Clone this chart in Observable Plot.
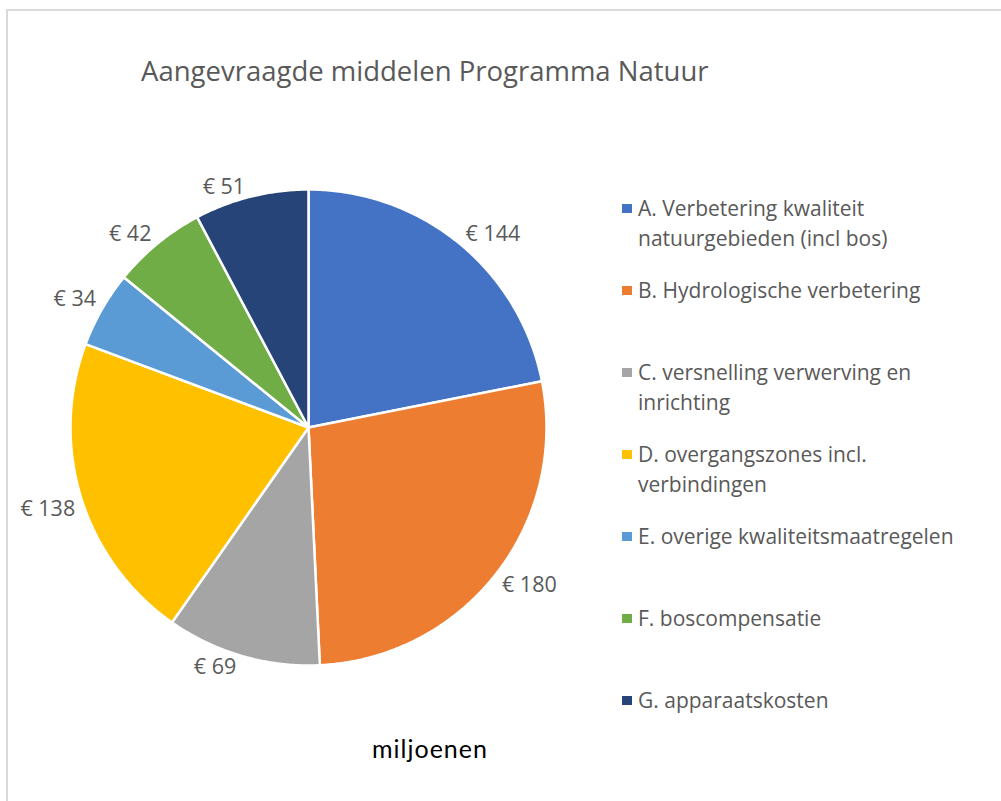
<!DOCTYPE html>
<html><head><meta charset="utf-8">
<script src="https://cdn.jsdelivr.net/npm/d3@7"></script>
<script src="https://cdn.jsdelivr.net/npm/@observablehq/plot@0.6"></script>
<style>
body{margin:0;background:#fff;width:1001px;height:801px;overflow:hidden;position:relative;font-family:"Open Sans",sans-serif;}
#frame{position:absolute;left:6px;top:9px;width:1010px;height:810px;border-top:2px solid #d9d9d9;border-left:2px solid #d9d9d9;}
#title{position:absolute;left:141px;top:52px;font-size:27.5px;line-height:38px;color:#595959;white-space:nowrap;}
#chart{position:absolute;left:0;top:120px;}
#legend{position:absolute;left:622px;top:193px;}
.item{height:82px;display:flex;align-items:flex-start;}
.sw{width:10px;height:9px;margin-top:11px;margin-right:6px;flex:none;}
.lab{white-space:pre-line;font-size:21px;line-height:30px;color:#595959;}
#unit{position:absolute;left:372px;top:733px;font-family:Lato,sans-serif;font-size:25px;letter-spacing:1px;line-height:30px;color:#000;}
</style></head>
<body>
<div id="frame"></div>
<div id="title">Aangevraagde middelen Programma Natuur</div>
<div id="chart"></div>
<div id="legend"></div>
<div id="unit">miljoenen</div>
<script>
const categories = ["A","B","C","D","E","F","G"];
const values = [144, 180, 69, 138, 34, 42, 51];
const colors = ["#4472C4","#ED7D31","#A5A5A5","#FFC000","#5B9BD5","#70AD47","#264478"];
const legendLabels = [
  "A. Verbetering kwaliteit\nnatuurgebieden (incl bos)",
  "B. Hydrologische verbetering",
  "C. versnelling verwerving en\ninrichting",
  "D. overgangszones incl.\nverbindingen",
  "E. overige kwaliteitsmaatregelen",
  "F. boscompensatie",
  "G. apparaatskosten"
];
const valueLabels = values.map(v => "€ " + v);

// layout constants (pixels)
const W = 600, H = 620, CX = 308, CY = 307, R = 238;
const GX = 6, GY = 3;

const data = categories.map((key, i) => ({key, value: values[i], label: valueLabels[i]}));
const arcs = d3.pie().sort(null).value(d => d.value)(data);

const ring = [];
const labels = [];
arcs.forEach(a => {
  const key = a.data.key;
  const n = Math.max(4, Math.ceil((a.endAngle - a.startAngle) / 0.01));
  ring.push({key, x: 0, y: 0});
  for (let i = 0; i <= n; i++) {
    const t = a.startAngle + (a.endAngle - a.startAngle) * i / n;
    ring.push({key, x: Math.sin(t), y: Math.cos(t)});
  }
  const m = (a.startAngle + a.endAngle) / 2;
  const ux = Math.sin(m), uy = Math.cos(m);
  const sx = ux >= 0 ? 1 : -1, sy = uy >= 0 ? 1 : -1;
  labels.push({key, label: a.data.label, x: ux + sx * GX / R, y: uy + sy * GY / R, right: sx > 0, upper: sy > 0});
});

const textOpts = {x: "x", y: "y", text: "label", fill: "#595959", fontSize: 21.5, fontFamily: "Open Sans"};
const plot = Plot.plot({
  width: W, height: H, margin: 0,
  x: {domain: [-CX / R, (W - CX) / R], axis: null},
  y: {domain: [-(H - CY) / R, CY / R], axis: null},
  color: {domain: categories, range: colors},
  style: {background: "transparent"},
  marks: [
    Plot.line(ring, {x: "x", y: "y", z: "key", fill: "key", stroke: "white", strokeWidth: 2.5, curve: "linear-closed", strokeLinejoin: "round"}),
    Plot.text(labels.filter(d => d.right && d.upper), {...textOpts, textAnchor: "start", lineAnchor: "bottom"}),
    Plot.text(labels.filter(d => d.right && !d.upper), {...textOpts, textAnchor: "start", lineAnchor: "top"}),
    Plot.text(labels.filter(d => !d.right && d.upper), {...textOpts, textAnchor: "end", lineAnchor: "bottom"}),
    Plot.text(labels.filter(d => !d.right && !d.upper), {...textOpts, textAnchor: "end", lineAnchor: "top"})
  ]
});
document.getElementById("chart").appendChild(plot);

const legend = document.getElementById("legend");
categories.forEach((c, i) => {
  const item = document.createElement("div");
  item.className = "item";
  const sw = document.createElement("div");
  sw.className = "sw";
  sw.style.background = colors[i];
  const lab = document.createElement("div");
  lab.className = "lab";
  lab.textContent = legendLabels[i];
  item.appendChild(sw); item.appendChild(lab);
  legend.appendChild(item);
});
</script>
</body></html>
